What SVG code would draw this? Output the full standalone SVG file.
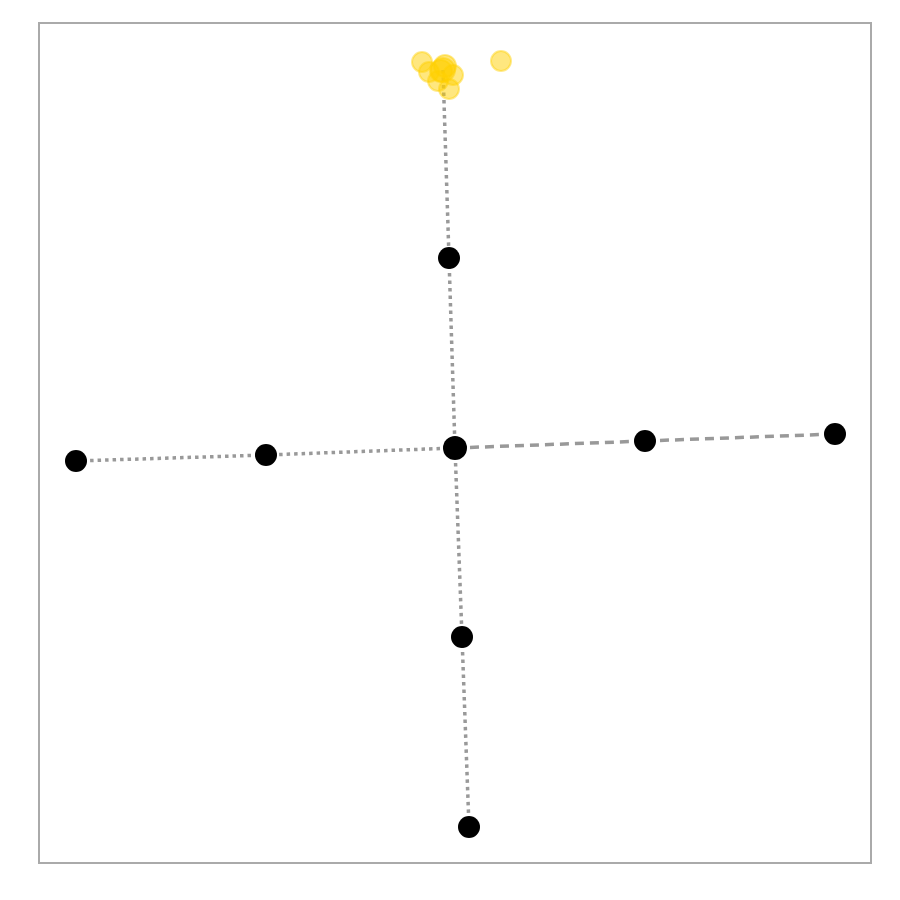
<svg xmlns="http://www.w3.org/2000/svg" width="900" height="900" viewBox="0 0 900 900">
<style>
.e{stroke:#999;stroke-width:3.5;fill:none;stroke-dasharray:3.5 4}
.d{stroke:#999;stroke-width:3.5;fill:none;stroke-dasharray:9 6}
.n{fill:#000}
.y{fill:#ffd000;fill-opacity:0.5;stroke:#ffd000;stroke-opacity:0.45;stroke-width:2}
</style>
<rect width="900" height="900" fill="#fff"/>
<rect x="39" y="23" width="832" height="840" fill="none" stroke="#aaa" stroke-width="2"/>
<g id="connectors">
<line class="e" x1="443" y1="70" x2="449" y2="258"/>
<line class="e" x1="449" y1="258" x2="455" y2="448"/>
<line class="e" x1="455" y1="448" x2="266" y2="455"/>
<line class="e" x1="266" y1="455" x2="76" y2="461"/>
<line class="d" x1="455" y1="448" x2="645" y2="441"/>
<line class="d" x1="645" y1="441" x2="835" y2="434"/>
<line class="e" x1="455" y1="448" x2="462" y2="637"/>
<line class="e" x1="462" y1="637" x2="469" y2="827"/>
</g>
<g id="cluster">
<circle class="y" cx="422" cy="62" r="10"/>
<circle class="y" cx="501" cy="61" r="10"/>
<circle class="y" cx="449" cy="89" r="10"/>
<circle class="y" cx="438" cy="81" r="10"/>
<circle class="y" cx="429" cy="72" r="10"/>
<circle class="y" cx="453" cy="75" r="10"/>
<circle class="y" cx="441" cy="71" r="11"/>
<circle class="y" cx="445" cy="66" r="11"/>
<circle class="y" cx="443" cy="70" r="12"/>
</g>
<g id="n1"><circle class="n" cx="449" cy="258" r="11"/></g>
<g id="n2"><circle class="n" cx="455" cy="448" r="12"/></g>
<g id="n3"><circle class="n" cx="645" cy="441" r="11"/></g>
<g id="n4"><circle class="n" cx="835" cy="434" r="11"/></g>
<g id="n5"><circle class="n" cx="266" cy="455" r="11"/></g>
<g id="n6"><circle class="n" cx="76" cy="461" r="11"/></g>
<g id="n7"><circle class="n" cx="462" cy="637" r="11"/></g>
<g id="n8"><circle class="n" cx="469" cy="827" r="11"/></g>
</svg>
